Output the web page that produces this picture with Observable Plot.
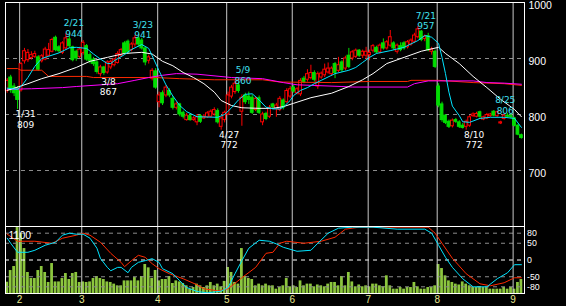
<!DOCTYPE html>
<html><head><meta charset="utf-8">
<script src="https://cdn.jsdelivr.net/npm/d3@7"></script>
<script src="https://cdn.jsdelivr.net/npm/@observablehq/plot@0.6"></script>
<style>
html,body{margin:0;padding:0;background:#000;}
#chart{position:relative;width:566px;height:306px;background:#000;overflow:hidden;}
#chart svg{position:absolute;left:0;}
</style></head><body><div id="chart"></div>
<script>
// ---- daily candles (trading-day index 0..149) ----
const open  = [842,866,850,846,843,895,897,901,903,902, 895,898,905,912,937,920,910,918,934,920, 912,903,910,922,906,898,893,872,884,875, 884,888,892,905,927,930,915,925,936,932, 918,896,864,877,822,838,834,842,828,812, 818,803,790,797,790,786,797,793,795,796, 800,806,778,790,800,832,840,852,805,834, 832,830,808,829,786,801,796,818,810,808, 825,822,832,848,838,836,864,862,865,874, 850,866,870,875,872,890,878,893,882,905, 900,903,914,905,905,906,914,919,911,927, 918,923,927,912,922,927,920,925,930,938, 948,935,940,912,912,850,818,798,787,779, 790,786,780,778,780,797,796,804,791,793, 797,805,797,784,792,798,797,793,780,763];
const high  = [864,870,855,850,893,918,916,912,913,905, 907,920,927,936,940,923,930,944,940,922, 915,920,932,925,910,902,896,888,886,896, 897,900,912,918,930,933,928,941,938,936, 920,906,882,882,840,842,852,846,832,822, 820,806,802,800,796,800,800,800,805,808, 812,810,796,806,840,852,860,857,835,838, 840,835,832,833,804,804,816,820,820,832, 828,846,850,852,848,864,868,880,888,878, 876,876,890,892,885,893,902,896,904,918, 914,917,916,915,920,915,925,922,926,935, 932,950,930,926,928,930,932,935,945,957, 950,942,945,920,915,855,822,800,790,792, 793,789,784,790,798,803,804,806,797,802, 802,807,806,788,800,802,800,795,782,765];
const low   = [838,838,832,809,840,890,893,897,900,877, 892,896,903,910,912,910,907,915,918,894, 895,900,906,895,890,886,872,867,870,872, 880,885,890,902,906,908,912,920,920,915, 887,890,860,845,812,816,830,830,808,808, 796,792,788,788,788,780,784,791,793,794, 797,783,772,785,798,828,836,838,779,818, 818,800,805,800,780,789,793,810,795,805, 808,820,828,838,835,832,855,858,862,858, 845,863,866,872,868,864,875,875,878,882, 896,900,902,900,898,896,910,908,908,915, 915,920,915,908,912,915,917,922,927,935, 930,930,912,906,882,812,786,782,775,776, 784,775,774,772,777,795,794,793,789,791, 795,796,795,782,790,794,792,778,762,756];
const close = [860,843,838,826,890,913,910,906,908,880, 904,916,915,933,915,913,927,936,922,897, 900,916,928,898,895,890,876,884,874,893, 894,898,908,915,909,911,925,936,925,918, 893,902,878,848,834,820,848,834,812,818, 800,796,798,790,793,795,787,796,802,805, 808,786,793,803,834,848,855,842,830,822, 826,803,828,803,800,792,812,813,816,828, 812,842,845,841,845,860,858,872,874,862, 872,873,880,882,882,874,888,879,900,885, 911,914,905,912,912,910,922,911,923,918, 929,938,918,923,915,918,929,932,941,952, 933,939,915,916,885,816,790,785,778,789, 787,778,776,787,795,800,801,796,795,799, 800,798,804,786,798,796,795,780,764,758];
const volume = [185,377,443,1083,985,738,345,246,246,377, 443,345,181,492,190,190,246,328,230,328, 345,181,190,181,190,246,279,246,230,190, 181,154,126,126,207,207,207,262,207,279, 476,421,246,378,207,230,230,279,164,207, 190,164,126,71,98,154,126,98,126,181, 126,154,110,198,427,345,181,154,738,279, 246,230,126,154,126,154,126,126,71,98, 126,246,110,126,98,207,126,154,154,110, 140,126,110,154,181,181,126,279,126,345, 190,110,140,110,126,110,154,154,126,110, 290,126,71,71,98,71,98,98,181,110, 71,71,98,98,126,476,410,290,207,181, 154,140,190,154,126,98,98,110,98,98, 71,71,71,71,98,71,98,71,181,230];

// ---- moving averages (index, value) ----
const cyanIdx = [0,3,4,6,8,10,12,15,18,20,23,25,27,29,30,31,34,36,38,39,41,42,44,46,48,50,52,55,61,63,65,67,69,71,73,75,77,79,80,82,83,85,87,89,91,95,99,101,103,105,107,111,115,119,121,123,125,126,127,128,129,131,132,134,137,140,144,147,149];
const cyanVal = [847,845,850,866,886,900,904,910,919,920,918,908,899,891,891,896,907,916,922,925,918,905,878,853,833,816,805,796,795,800,812,826,836,837,826,813,810,810,813,825,834,843,848,855,861,873,879,884,893,902,909,914,920,932,941,938,927,902,873,840,815,798,787,786,793,795,795,793,777];
const whiteIdx = [0,6,10,15,20,24,29,34,39,42,45,48,51,54,57,60,62,65,68,73,77,80,83,88,94,99,103,106,110,115,120,125,127,131,135,139,143,147,149];
const whiteVal = [843,855,864,873,884,895,902,909,911,908,895,887,875,866,855,840,825,816,812,811,811,814,820,830,838,850,862,873,891,902,913,920,909,891,868,848,827,809,796];
const redIdx = [0,3,4,10,12,23,25,43,50,60,74,79,94,105,116,117,125,135,144,149];
const redVal = [882,882,879,879,868,868,866,866,864,862,862,858,857,859,859,861,861,857,855,852];
const magIdx = [0,7,16,20,32,37,41,45,49,55,65,74,80,84,97,100,116,118,122,135,139,144,149];
const magVal = [845,846,848,850,855,861,866,870,873,872,866,864,857,853,850,849,849,855,860,860,857,856,854];

// ---- oscillator (lower panel) ----
const oscCyanIdx = [0,1,3,6,8,11,14,16,18,20,22,24,26,27,29,30,32,33,35,36,38,40,42,44,45,48,50,52,55,58,62,64,66,68,70,73,76,78,80,84,88,90,93,96,100,106,113,121,123,125,127,129,132,135,139,142,145,147,149];
const oscCyanVal = [65,50,23,23,29,44,53,74,80,77,77,65,35,5,-22,-32,-22,-22,-38,-22,-7,-2,4,-7,-26,-41,-62,-82,-94,-98,-93,-82,-41,-2,35,59,56,48,38,26,29,50,80,95,98,98,92,92,80,44,8,-22,-56,-80,-80,-56,-38,-14,-14];
const oscRedIdx = [0,3,8,13,16,20,22,24,27,30,33,34,36,38,40,42,44,47,51,55,57,61,64,68,72,75,77,79,81,86,91,95,98,102,122,124,126,129,133,137,140,144,147,149];
const oscRedVal = [77,56,56,50,65,74,80,74,53,20,-7,-20,-2,14,8,-11,-26,-41,-56,-74,-86,-92,-86,-53,-22,20,23,50,56,50,56,68,92,98,98,80,50,5,-41,-71,-77,-68,-53,-53];

// ---- axes / labels ----
const priceTicks = [700, 800, 900, 1000];
const priceGrid = [700, 800, 900];
const oscTicks = [80, 50, 0, -50, -80];
const monthStart = [4, 22, 44, 64, 83, 105, 125, 147];
const monthLabels = ["2", "3", "4", "5", "6", "7", "8", "9"];
const volTop = 1100;

// ---- annotations ----
const annDate  = ["1/31", "2/21", "3/8", "3/23", "4/27", "5/9", "7/21", "8/10", "8/25"];
const annIdx   = [3, 17, 27, 37, 62, 66, 119, 133, 142];
const annPrice = [809, 944, 867, 941, 772, 860, 957, 772, 806];
const annKind  = ["low", "high", "low", "high", "low", "high", "high", "low", "high"];

const RED = "#ff0000", GREEN = "#00dd00", CYAN = "#00e4ff", MAG = "#ff00ff", MARED = "#ff2a00";
const VOL = "#8cc63e", GRID = "#8c8c8c", MONTH = "#c8c8c8", ANNC = "#40e0f0", MONTHTXT = "#e8e890";
const FONT = "Liberation Sans, Arial, sans-serif";
const AFONT = "DejaVu Sans, sans-serif";

const candles = d3.range(open.length).map(i => ({i, o: open[i], h: high[i], l: low[i], c: close[i]}));
const ups = candles.filter(d => d.c >= d.o);
const downs = candles.filter(d => d.c < d.o);
const pts = (idx, val) => idx.map((i, k) => ({i, v: val[k]}));
const ann = annDate.map((d, k) => ({label: d + "\n" + annPrice[k], i: annIdx[k], p: annPrice[k], kind: annKind[k]}));
const highs = ann.filter(d => d.kind === "high");
const lows = ann.filter(d => d.kind === "low");
const xDomain = [-0.5, 149.9];

const main = Plot.plot({
  width: 566, height: 228,
  marginLeft: 5, marginRight: 42, marginTop: 2, marginBottom: 2,
  x: {domain: xDomain, axis: null},
  y: {domain: [600, 1000], axis: null},
  style: {background: "#000", color: "#fff", overflow: "visible"},
  marks: [
    Plot.ruleY(priceGrid, {stroke: GRID, strokeDasharray: "4,4"}),
    Plot.ruleX(monthStart, {x: d => d - 0.4, stroke: MONTH}),
    Plot.ruleX(ups, {x: "i", y1: "l", y2: "h", stroke: RED}),
    Plot.ruleX(downs, {x: "i", y1: "l", y2: "h", stroke: GREEN}),
    Plot.rect(ups, {x1: d => d.i - 0.4, x2: d => d.i + 0.4, y1: "o", y2: "c", fill: "#000", stroke: RED, strokeWidth: 1}),
    Plot.rect(downs, {x1: d => d.i - 0.4, x2: d => d.i + 0.4, y1: "c", y2: "o", fill: GREEN, stroke: GREEN, strokeWidth: 1}),
    Plot.line(pts(redIdx, redVal), {x: "i", y: "v", stroke: MARED, strokeWidth: 1}),
    Plot.line(pts(magIdx, magVal), {x: "i", y: "v", stroke: MAG, strokeWidth: 1}),
    Plot.line(pts(whiteIdx, whiteVal), {x: "i", y: "v", stroke: "#fff", strokeWidth: 1}),
    Plot.line(pts(cyanIdx, cyanVal), {x: "i", y: "v", stroke: CYAN, strokeWidth: 1}),
    Plot.frame({stroke: "#fff"}),
    Plot.text(priceTicks, {y: d => d, frameAnchor: "right", text: d => String(d), textAnchor: "start", dx: 4, dy: 3, fill: "#fff", fontSize: 10.5, fontFamily: FONT}),
    Plot.text(highs, {x: "i", y: "p", text: "label", lineAnchor: "middle", lineHeight: 1.18, dx: 8, dy: -6, fill: ANNC, fontSize: 9, fontFamily: AFONT}),
    Plot.text(lows, {x: "i", y: "p", text: "label", lineAnchor: "middle", lineHeight: 1.18, dx: 8, dy: 9.5, fill: "#fff", fontSize: 9, fontFamily: AFONT})
  ]
});
main.style.top = "0px";

const lower = Plot.plot({
  width: 566, height: 80,
  marginLeft: 5, marginRight: 42, marginTop: 0, marginBottom: 13,
  x: {domain: xDomain, axis: null},
  y: {domain: [-100, 100], axis: null},
  style: {background: "transparent", color: "#fff", overflow: "visible"},
  marks: [
    Plot.rect(volume.map((v, i) => ({i, v})), {x1: d => d.i - 0.4, x2: d => d.i + 0.4, y1: () => -100, y2: d => -100 + d.v / volTop * 200, fill: VOL}),
    Plot.ruleY(oscTicks.filter(d => d !== 0), {stroke: GRID, strokeDasharray: "4,4"}),
    Plot.ruleY([0], {stroke: "#fff", strokeDasharray: "4,4"}),
    Plot.ruleX(monthStart, {x: d => d - 0.4, stroke: MONTH}),
    Plot.line(pts(oscRedIdx, oscRedVal), {x: "i", y: "v", stroke: MARED, strokeWidth: 1}),
    Plot.line(pts(oscCyanIdx, oscCyanVal), {x: "i", y: "v", stroke: CYAN, strokeWidth: 1}),
    Plot.frame({stroke: "#fff"}),
    Plot.text([volTop], {frameAnchor: "top-left", text: d => String(d), textAnchor: "start", dx: 3, dy: 5, fill: "#fff", fontSize: 10.5, fontFamily: FONT}),
    Plot.text(oscTicks, {y: d => d, frameAnchor: "right", text: d => String(d), textAnchor: "start", dx: 2.5, fill: "#fff", fontSize: 8.8, fontFamily: FONT}),
    Plot.text(monthStart, {x: d => d - 0.4, y: () => -100, text: monthLabels, dy: 6.5, fill: MONTHTXT, fontSize: 10, fontFamily: FONT})
  ]
});
lower.style.top = "226px";

const root = document.getElementById("chart");
root.appendChild(main);
root.appendChild(lower);
</script>
</body></html>
